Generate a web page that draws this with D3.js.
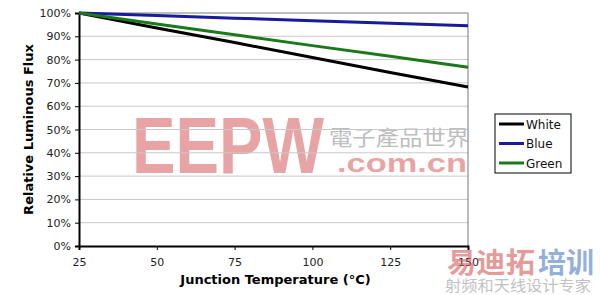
<!DOCTYPE html>
<html><head><meta charset="utf-8">
<script src="https://cdn.jsdelivr.net/npm/d3@7"></script>
<style>body{margin:0;background:#fff}svg{display:block}</style>
</head><body>
<script>
const temps = [25, 50, 75, 100, 125, 150];
const white = [100, 93.6, 87.3, 80.9, 74.5, 68.2];
const blue = [100, 98.9, 97.8, 96.7, 95.6, 94.5];
const green = [100, 95.3, 90.7, 86.0, 81.4, 76.7];
const seriesNames = ["White", "Blue", "Green"];
const seriesColors = ["#000000", "#1a1a9c", "#1a7a1a"];
const yTicks = [0,10,20,30,40,50,60,70,80,90,100];
const xTicks = [25,50,75,100,125,150];

const W = 600, H = 295;
const m = {l:79, r:132, t:13, b:49};
const svg = d3.select("body").append("svg").attr("width", W).attr("height", H);
const font = "'DejaVu Sans', Verdana, sans-serif";

const x = d3.scaleLinear().domain([25,150]).range([m.l, W - m.r]);
const y = d3.scaleLinear().domain([0,100]).range([H - m.b, m.t]);

// watermark (behind)
const wm = svg.append("g").attr("opacity", 0.55);
wm.append("text").attr("x", 132).attr("y", 173).attr("font-family", "'Liberation Sans', Arial, sans-serif")
  .attr("font-weight", "bold").attr("font-size", 80).attr("fill", "#d75a5a")
  .attr("textLength", 192).attr("lengthAdjust", "spacingAndGlyphs").text("EEPW");
wm.append("text").attr("x", 329).attr("y", 145).attr("font-family", "'Noto Sans CJK TC', sans-serif")
  .attr("font-size", 21).attr("fill", "#888").attr("textLength", 140).attr("lengthAdjust", "spacingAndGlyphs").text("電子產品世界");
wm.append("text").attr("x", 337).attr("y", 172).attr("font-family", "'Liberation Sans', Arial, sans-serif")
  .attr("font-weight", "bold").attr("font-size", 26).attr("fill", "#d75a5a")
  .attr("textLength", 130).attr("lengthAdjust", "spacingAndGlyphs").text(".com.cn");

// grid
svg.append("g").selectAll("line").data(yTicks.filter(d=>d>0)).join("line")
  .attr("x1", m.l).attr("x2", W - m.r).attr("y1", d=>y(d)).attr("y2", d=>y(d))
  .attr("stroke", "#c8c8c8").attr("stroke-width", 1);

// frame top/right
svg.append("line").attr("x1", m.l).attr("x2", W-m.r).attr("y1", y(100)).attr("y2", y(100)).attr("stroke", "#999");
svg.append("line").attr("x1", W-m.r).attr("x2", W-m.r).attr("y1", y(100)).attr("y2", y(0)).attr("stroke", "#777");

// axes
const yAxis = svg.append("g").attr("transform", `translate(${m.l},0)`)
  .call(d3.axisLeft(y).tickValues(yTicks).tickFormat(d=>d+"%").tickSize(4).tickPadding(4));
const xAxis = svg.append("g").attr("transform", `translate(0,${H-m.b})`)
  .call(d3.axisBottom(x).tickValues(xTicks).tickSize(4).tickPadding(8));
[yAxis, xAxis].forEach(a => {
  a.select(".domain").attr("stroke", "#000").attr("stroke-width", 2);
  a.selectAll(".tick line").attr("stroke", "#000");
  a.selectAll("text").attr("font-family", font).attr("font-size", 11).attr("fill", "#222");
});

// lines
const data = [white, blue, green];
const line = d3.line().x((d,i)=>x(temps[i])).y(d=>y(d));
svg.append("g").selectAll("path").data(data).join("path")
  .attr("d", line).attr("fill", "none")
  .attr("stroke", (d,i)=>seriesColors[i]).attr("stroke-width", 3);

// axis titles
svg.append("text").attr("x", (m.l + W - m.r)/2 + 2).attr("y", 284).attr("text-anchor", "middle")
  .attr("font-family", font).attr("font-weight", "bold").attr("font-size", 13).text("Junction Temperature (\u00B0C)");
svg.append("text").attr("transform", `translate(33,${(m.t + H - m.b)/2}) rotate(-90)`).attr("text-anchor", "middle")
  .attr("font-family", font).attr("font-weight", "bold").attr("font-size", 13).text("Relative Luminous Flux");

// legend
const lg = svg.append("g").attr("transform", "translate(495,114)");
lg.append("rect").attr("width", 76).attr("height", 59).attr("fill", "#fff").attr("stroke", "#000");
const items = lg.selectAll("g").data(seriesNames).join("g").attr("transform", (d,i)=>`translate(0,${10 + i*19.5})`);
items.append("line").attr("x1", 4).attr("x2", 29).attr("stroke", (d,i)=>seriesColors[i]).attr("stroke-width", 3);
items.append("text").attr("x", 31).attr("y", 4.5).attr("font-family", font).attr("font-size", 12).attr("fill", "#111").text(d=>d);

// bottom-right watermark
const wm2 = svg.append("g").attr("opacity", 0.6);
wm2.append("text").attr("x", 447).attr("y", 273).attr("font-family", "'Noto Sans CJK SC', sans-serif")
  .attr("font-weight", "bold").attr("font-size", 28).attr("fill", "#d75a5a").attr("textLength", 88).attr("lengthAdjust", "spacingAndGlyphs").text("易迪拓");
wm2.append("text").attr("x", 538).attr("y", 273).attr("font-family", "'Noto Sans CJK SC', sans-serif")
  .attr("font-weight", "bold").attr("font-size", 28).attr("fill", "#4a7cc0").attr("textLength", 56).attr("lengthAdjust", "spacingAndGlyphs").text("培训");
wm2.append("text").attr("x", 445).attr("y", 291).attr("font-family", "'Noto Sans CJK SC', sans-serif")
  .attr("font-size", 15).attr("fill", "#999").attr("textLength", 146).attr("lengthAdjust", "spacingAndGlyphs").text("射频和天线设计专家");
</script>
</body></html>
